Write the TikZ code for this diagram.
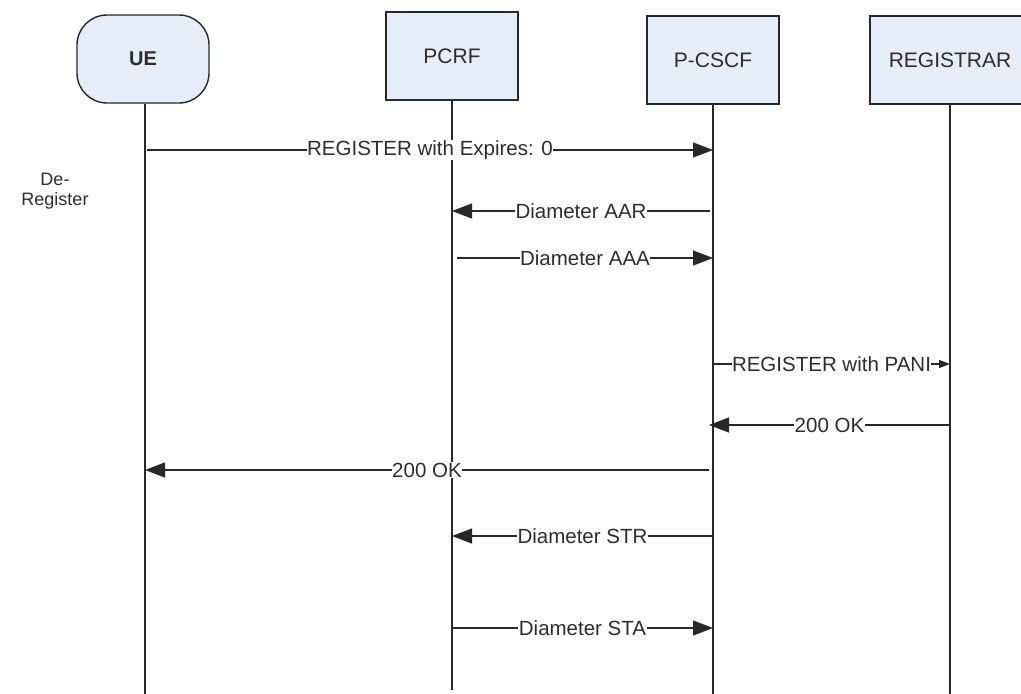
\documentclass[tikz,border=0pt]{standalone}
\usepackage{fontspec}
\setmainfont{Liberation Sans}
\usetikzlibrary{arrows.meta}
\definecolor{boxfill}{RGB}{230,236,248}
\definecolor{linegray}{RGB}{40,40,40}
\definecolor{txt}{RGB}{45,45,45}
\tikzset{
  actor/.style={draw=linegray, line width=1.4pt, fill=boxfill, minimum width=132pt, minimum height=88pt, font=\fontsize{21}{25}\selectfont, text=txt},
  life/.style={draw=linegray, line width=1.4pt},
  msg/.style={draw=linegray, line width=1.3pt, -{Triangle[length=20pt,width=15pt]}},
  smallmsg/.style={draw=linegray, line width=1.3pt, -{Triangle[length=11pt,width=8pt]}},
  lbl/.style={fill=white, inner sep=0.5pt, font=\fontsize{20.5}{24}\selectfont, text=txt}
}
\begin{document}
\begin{tikzpicture}[x=1pt,y=-1pt]
\useasboundingbox (0,0) rectangle (1021,694);
% actors
\node[actor, rounded corners=30pt, font=\bfseries\fontsize{20}{24}\selectfont] (ue) at (143,59) {UE};
\node[actor] (pcrf) at (452,56) {PCRF};
\node[actor] (pcscf) at (713,60) {P-CSCF};
\node[actor, minimum width=160pt] (reg) at (950,60) {REGISTRAR};
% lifelines
\coordinate (ueE) at (145,694);
\coordinate (pcrfE) at (452,690);
\coordinate (pcscfE) at (713,694);
\coordinate (regE) at (950,694);
\draw[life] (ue.south -| ueE) -- (ueE);
\draw[life] (pcrf.south) -- (pcrfE);
\draw[life] (pcscf.south) -- (pcscfE);
\draw[life] (reg.south) -- (regE);
% side label
\node[font=\fontsize{18}{20}\selectfont, align=center, text=txt] (dereg) at (55,191) {De-\\Register};
% messages
\coordinate (a1) at (147,150); \coordinate (b1) at (713,150);
\draw[msg] (a1) -- node[lbl] {REGISTER with Expires: 0} (b1);
\coordinate (a2) at (710,211); \coordinate (b2) at (452,211);
\draw[msg] (a2) -- node[lbl] {Diameter AAR} (b2);
\coordinate (a3) at (457,258); \coordinate (b3) at (713,258);
\draw[msg] (a3) -- node[lbl] {Diameter AAA} (b3);
\coordinate (a4) at (713,364); \coordinate (b4) at (950,364);
\draw[smallmsg] (a4) -- node[lbl] {REGISTER with PANI} (b4);
\coordinate (a5) at (950,425); \coordinate (b5) at (709,425);
\draw[msg] (a5) -- node[lbl] {200 OK} (b5);
\coordinate (a6) at (709,470); \coordinate (b6) at (145,470);
\draw[msg] (a6) -- node[lbl] {200 OK} (b6);
\coordinate (a7) at (713,536); \coordinate (b7) at (452,536);
\draw[msg] (a7) -- node[lbl] {Diameter STR} (b7);
\coordinate (a8) at (452,628); \coordinate (b8) at (713,628);
\draw[msg] (a8) -- node[lbl] {Diameter STA} (b8);
\end{tikzpicture}
\end{document}
